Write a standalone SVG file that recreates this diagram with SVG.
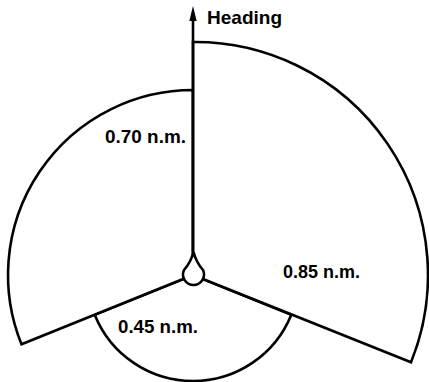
<svg xmlns="http://www.w3.org/2000/svg" width="429" height="382" viewBox="0 0 429 382">
<style>
.sec{fill:#fff;stroke:#000;stroke-width:2.6;stroke-linejoin:miter}
.lbl{font-family:"Liberation Sans",Arial,sans-serif;font-weight:bold;font-size:18px;fill:#000}
.ln{stroke:#000;stroke-width:2.6;fill:none}
</style>
<rect width="429" height="382" fill="#fff"/>
<g id="sector-stern">
<path class="sec" d="M193,275 L291.3,314.7 A106,106 0 0 1 94.7,314.7 Z"/>
<text class="lbl" x="118" y="333" textLength="80" lengthAdjust="spacingAndGlyphs">0.45 n.m.</text>
</g>
<g id="sector-port">
<path class="sec" d="M193,275 L193,90 A185,185 0 0 0 21.5,344.3 Z"/>
<text class="lbl" x="105" y="143" textLength="81" lengthAdjust="spacingAndGlyphs">0.70 n.m.</text>
</g>
<g id="sector-starboard">
<path class="sec" d="M193,275 L193,42 A233,233 0 0 1 411,362.3 Z"/>
<text class="lbl" x="283" y="278" textLength="77" lengthAdjust="spacingAndGlyphs">0.85 n.m.</text>
</g>
<g id="connectors">
<line class="ln" x1="193" y1="252" x2="193" y2="19"/>
<polygon points="193,6 189.3,21 196.7,21" fill="#000"/>
</g>
<g id="heading-label">
<text class="lbl" x="207" y="24" font-size="19" style="font-size:19px" textLength="75" lengthAdjust="spacingAndGlyphs">Heading</text>
</g>
<g id="ship">
<path d="M193.5,252 Q196,262 203,270 A10.5,10.5 0 1 1 184,270 Q191,262 193.5,252 Z" fill="#fff" stroke="#000" stroke-width="2.6"/>
</g>
</svg>
